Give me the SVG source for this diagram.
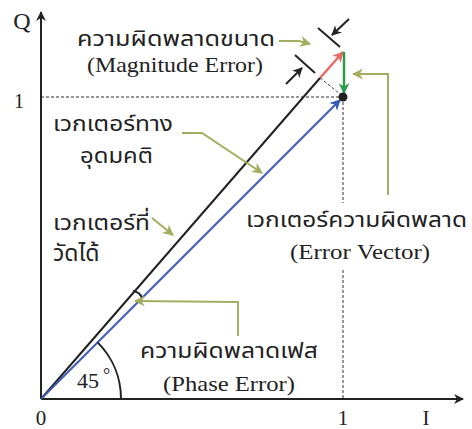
<svg xmlns="http://www.w3.org/2000/svg" width="472" height="429" viewBox="0 0 472 429">
<defs>
<marker id="ah" viewBox="0 0 10 10" refX="9" refY="5" markerWidth="10" markerHeight="10" markerUnits="userSpaceOnUse" orient="auto"><path d="M0,0 L10,5 L0,10 L3,5 Z" fill="#222"/></marker>
<marker id="ahb" viewBox="0 0 10 10" refX="9" refY="5" markerWidth="11" markerHeight="11" markerUnits="userSpaceOnUse" orient="auto"><path d="M0,0 L10,5 L0,10 L3,5 Z" fill="#3a5db5"/></marker>
<marker id="ahr" viewBox="0 0 10 10" refX="9" refY="5" markerWidth="11" markerHeight="11" markerUnits="userSpaceOnUse" orient="auto"><path d="M0,0 L10,5 L0,10 L3,5 Z" fill="#e86a66"/></marker>
<marker id="ahg" viewBox="0 0 10 10" refX="9" refY="5" markerWidth="11" markerHeight="11" markerUnits="userSpaceOnUse" orient="auto"><path d="M0,0 L10,5 L0,10 L3,5 Z" fill="#2e9a4c"/></marker>
<marker id="aho" viewBox="0 0 10 10" refX="9" refY="5" markerWidth="11" markerHeight="11" markerUnits="userSpaceOnUse" orient="auto"><path d="M0,0 L10,5 L0,10 L3,5 Z" fill="#a3ad5f"/></marker>
</defs>
<style>
.ser{font-family:"Liberation Serif","Times New Roman",serif;fill:#222;}
.th{font-family:"Noto Sans Thai","Noto Sans",sans-serif;font-weight:400;fill:#222;}
.ax{stroke:#222;stroke-width:2;fill:none;}
.dash{stroke:#333;stroke-width:1;stroke-dasharray:3,2;fill:none;}
.ol{stroke:#a3ad5f;stroke-width:2;fill:none;marker-end:url(#aho);}
.blk{stroke:#222;stroke-width:2;fill:none;}
</style>
<rect width="472" height="429" fill="#fff"/>
<g id="axes">
<line class="ax" x1="41" y1="399" x2="41" y2="12" marker-end="url(#ah)"/>
<line class="ax" x1="41" y1="399" x2="463" y2="399" marker-end="url(#ah)"/>
<line class="dash" x1="41" y1="97" x2="343" y2="97"/>
<line class="dash" x1="343" y1="97" x2="343" y2="203"/>
<line class="dash" x1="343" y1="270" x2="343" y2="399"/>
<text class="ser" x="22" y="29" font-size="24" text-anchor="middle">Q</text>
<text class="ser" x="19" y="108" font-size="20" text-anchor="middle">1</text>
<text class="ser" x="41" y="425" font-size="21" text-anchor="middle">0</text>
<text class="ser" x="343" y="425" font-size="21" text-anchor="middle">1</text>
<text class="ser" x="426" y="425" font-size="21" text-anchor="middle">I</text>
</g>
<g id="vectors">
<line x1="41" y1="399" x2="320" y2="78" stroke="#222" stroke-width="2"/>
<line x1="41" y1="399" x2="340" y2="100" stroke="#3a5db5" stroke-width="2" marker-end="url(#ahb)"/>
<line x1="320" y1="78" x2="343" y2="52" stroke="#e86a66" stroke-width="2.5" marker-end="url(#ahr)"/>
<line x1="344" y1="52" x2="344" y2="93" stroke="#2e9a4c" stroke-width="2.5" marker-end="url(#ahg)"/>
<path class="dash" d="M320,78 Q332,87 343,97"/>
<circle cx="343" cy="97" r="4.5" fill="#222"/>
<path class="blk" d="M133,291 Q140,292 142,298"/>
<path class="blk" d="M97.6,342.4 A80,80 0 0 1 121,399"/>
<text class="ser" x="77" y="388" font-size="22">45</text>
<text class="ser" x="103" y="381" font-size="18">°</text>
</g>
<g id="magnitude-marks">
<line class="blk" x1="318" y1="28" x2="340" y2="47"/>
<line class="blk" x1="295" y1="55" x2="315" y2="73"/>
<line x1="349" y1="19" x2="332" y2="35" stroke="#222" stroke-width="2" marker-end="url(#ah)"/>
<line x1="286" y1="84" x2="302" y2="68" stroke="#222" stroke-width="2" marker-end="url(#ah)"/>
</g>
<g id="connectors">
<path class="ol" d="M279,41 L299,41 L310,44"/>
<path class="ol" d="M182,133 L202,133 L262,173"/>
<path class="ol" d="M152,218 L173,235"/>
<path class="ol" d="M388,195 L388,74 L353,74"/>
<path class="ol" d="M238,336 L238,302 L135,301"/>
</g>
<g id="label-magnitude">
<text class="th" x="77" y="46" font-size="21" textLength="198" lengthAdjust="spacingAndGlyphs">ความผิดพลาดขนาด</text>
<text class="ser" x="87" y="72" font-size="21" textLength="176" lengthAdjust="spacingAndGlyphs">(Magnitude Error)</text>
</g>
<g id="label-ideal">
<text class="th" x="53" y="131" font-size="22" textLength="120" lengthAdjust="spacingAndGlyphs">เวกเตอร์ทาง</text>
<text class="th" x="80" y="163" font-size="22" textLength="73" lengthAdjust="spacingAndGlyphs">อุดมคติ</text>
</g>
<g id="label-measured">
<text class="th" x="53" y="230" font-size="22" textLength="97" lengthAdjust="spacingAndGlyphs">เวกเตอร์ที่</text>
<text class="th" x="53" y="261" font-size="23">วัดได้</text>
</g>
<g id="label-error-vector">
<text class="th" x="246" y="227" font-size="22" textLength="221" lengthAdjust="spacingAndGlyphs">เวกเตอร์ความผิดพลาด</text>
<text class="ser" x="290" y="259" font-size="21" textLength="140" lengthAdjust="spacingAndGlyphs">(Error Vector)</text>
</g>
<g id="label-phase">
<text class="th" x="140" y="358" font-size="22" textLength="178" lengthAdjust="spacingAndGlyphs">ความผิดพลาดเฟส</text>
<text class="ser" x="163" y="391" font-size="21" textLength="132" lengthAdjust="spacingAndGlyphs">(Phase Error)</text>
</g>
</svg>
